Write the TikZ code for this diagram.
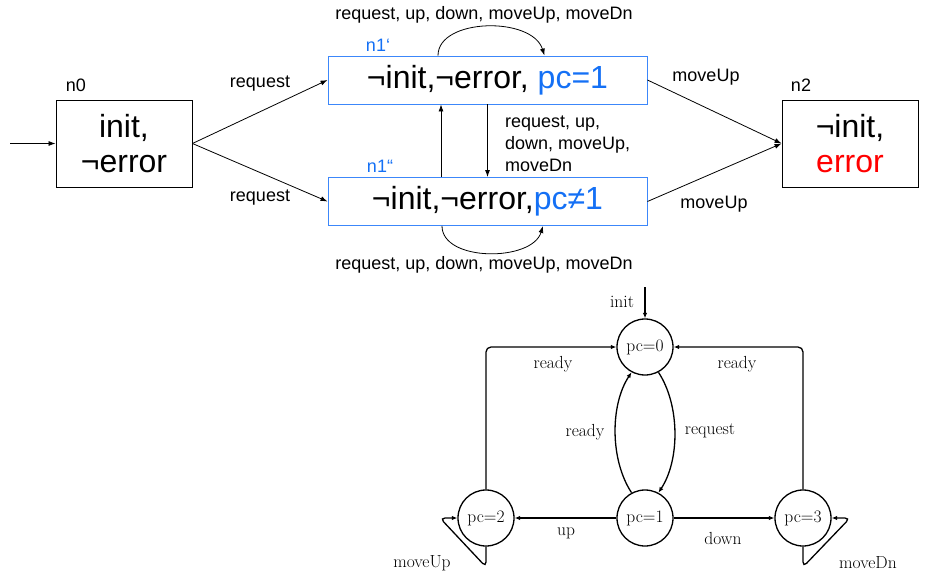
\documentclass[tikz,border=0pt]{standalone}
\usepackage{fontspec}
\newfontfamily\arial{Liberation Sans}
\usetikzlibrary{arrows.meta}
\definecolor{stateblue}{RGB}{20,112,245}
\definecolor{boxblue}{RGB}{60,135,250}
\definecolor{errred}{RGB}{255,0,0}
\tikzset{
  abox/.style={draw=black, line width=0.9pt, minimum width=136pt, minimum height=87pt,
    align=center, inner sep=0pt, font=\arial\fontsize{32}{35}\selectfont},
  bbox/.style={draw=boxblue, line width=0.9pt, minimum width=319pt, minimum height=48pt,
    inner sep=0pt, font=\arial\fontsize{32}{35}\selectfont},
  alabel/.style={font=\arial\fontsize{18}{22}\selectfont, inner sep=0pt},
  tarr/.style={-{Latex[length=7pt,width=5pt]}, line width=0.8pt},
  pcstate/.style={circle, draw, line width=1.3pt, minimum size=56pt, inner sep=0pt,
    font=\fontsize{17.5}{20}\selectfont},
  blabel/.style={font=\fontsize{17.5}{20}\selectfont, inner sep=0pt},
  barr/.style={-{Latex[length=5.5pt,width=4.5pt]}, line width=1.3pt},
}
\begin{document}
\begin{tikzpicture}[x=1pt,y=-1pt]
\useasboundingbox (0,0) rectangle (940,575);

% ---- upper automaton: abstract states ----
\node[abox] (n0) at (124,143.5) {init,\\¬error};
\node[abox] (n2) at (850,143.5) {¬init,\\\textcolor{errred}{error}};
\node[bbox] (n1a) at (487.5,80) {¬init,¬error, \textcolor{stateblue}{pc=1}};
\node[bbox] (n1b) at (487.5,201.5) {¬init,¬error,\textcolor{stateblue}{pc≠1}};

\node[alabel] (l0) at (76,85) {n0};
\node[alabel] (l2) at (801,85) {n2};
\node[alabel, text=stateblue] (l1a) at (378,45) {n1‘};
\node[alabel, text=stateblue] (l1b) at (380,166) {n1“};

\coordinate (start) at (10,143.5);
\draw[tarr] (start) -- (n0.west);
\draw[tarr] (n0.east) -- (n1a.west);
\draw[tarr] (n0.east) -- (n1b.west);
\draw[tarr] (n1a.east) -- (n2.west);
\draw[tarr] (n1b.east) -- (n2.west);
\draw[tarr] ([xshift=-46.5pt]n1b.north) -- ([xshift=-46.5pt]n1a.south);
\draw[tarr] (n1a.south) -- (n1b.north);

% self loops
\draw[tarr] ([xshift=-49.5pt]n1a.north) .. controls (438,18) and (532,16) .. ([xshift=57pt]n1a.north);
\draw[tarr] ([xshift=-45.5pt]n1b.south) .. controls (442,262) and (532,262) .. ([xshift=55.5pt]n1b.south);

\node[alabel] (r1) at (260,84) {request};
\node[alabel] (r2) at (260,198) {request};
\node[alabel] (m1) at (706,77) {moveUp};
\node[alabel] (m2) at (714,204) {moveUp};
\node[alabel, align=left, anchor=west] (mid) at (505,143.5) {request, up,\\down, moveUp,\\moveDn};
\node[alabel] (top) at (484,15) {request, up, down, moveUp, moveDn};
\node[alabel] (bot) at (484,265) {request, up, down, moveUp, moveDn};

% ---- lower automaton: program counter ----
\node[pcstate] (pc0) at (645,347) {pc=0};
\node[pcstate] (pc1) at (645,518) {pc=1};
\node[pcstate] (pc2) at (486,518) {pc=2};
\node[pcstate] (pc3) at (803,518) {pc=3};

\coordinate (initp) at (645,287);
\draw[barr] (initp) -- (pc0.north);
\node[blabel] (initl) at (622,302) {init};

\draw[barr, rounded corners=5pt] (pc2.north) |- (pc0.west);
\draw[barr, rounded corners=5pt] (pc3.north) |- (pc0.east);
\draw[barr] (pc0.-62) .. controls (680,405) and (680,460) .. (pc1.62);
\draw[barr] (pc1.118) .. controls (610,460) and (610,405) .. (pc0.-118);
\draw[barr, line width=2pt] (pc1.west) -- (pc2.east);
\draw[barr, line width=2pt] (pc1.east) -- (pc3.west);

\coordinate (lu1) at (486,567);
\coordinate (lu2) at (440,518);
\draw[barr, rounded corners=5pt] (pc2.south) -- (lu1) -- (lu2) -- (pc2.west);
\coordinate (ld1) at (803,567);
\coordinate (ld2) at (850,518);
\draw[barr, rounded corners=5pt] (pc3.south) -- (ld1) -- (ld2) -- (pc3.east);

\node[blabel] (rl) at (553,364) {ready};
\node[blabel] (rr) at (737,364) {ready};
\node[blabel] (rm) at (585,432) {ready};
\node[blabel] (rq) at (710,431) {request};
\node[blabel] (up) at (566,533) {up};
\node[blabel] (dn) at (723,538) {down};
\node[blabel] (mu) at (422,563) {moveUp};
\node[blabel] (md) at (868,563) {moveDn};
\end{tikzpicture}
\end{document}
